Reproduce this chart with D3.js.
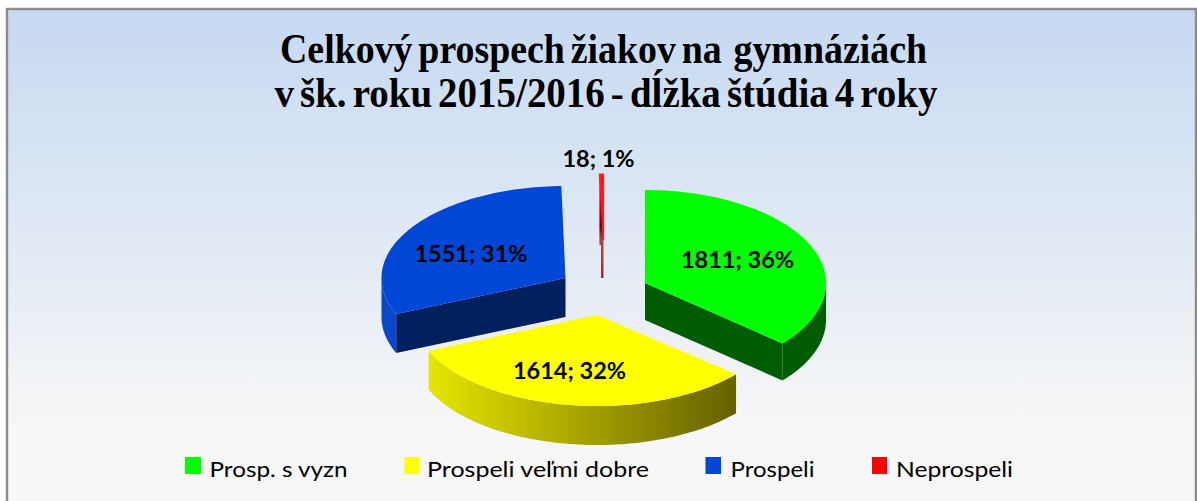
<!DOCTYPE html>
<html><head><meta charset="utf-8">
<script src="https://cdn.jsdelivr.net/npm/d3@7"></script>
<style>html,body{margin:0;padding:0;background:#fff}svg{display:block}</style>
</head><body><div id="chart"></div>
<script>
const categories = ["Prosp. s vyzn", "Prospeli veľmi dobre", "Prospeli", "Neprospeli"];
const values = [1811, 1614, 1551, 18];
const percents = ["36%", "32%", "31%", "1%"];
const titleLines = ["Celkový prospech žiakov na  gymnáziách", "v šk. roku 2015/2016 - dĺžka štúdia 4 roky"];

const W = 1197, H = 501;
const topColors = ["#00ff00", "#ffff00", "#0047d8", "#ff1a1a"];
const sideColors = ["#005c00", "#b0b000", "#002060", "#8a3a3a"];
const apex = [[645, 283], [597, 315], [565.5, 278], [603.5, 240]];
const radiiY = [93, 91, 92, 66];
const radiiX = [181, 183, 184, 181];
const DEPTH = [37, 39, 39, 38];
const labelPos = [[737.5, 268], [569.5, 379], [471, 262], [598.5, 167]];
const legendX = [185, 404.5, 705.5, 872], legendTextX = [209.5, 427, 730.5, 896], legendTextW = [138, 222, 84, 117];

const svg = d3.select("#chart").append("svg").attr("width", W).attr("height", H);
const defs = svg.append("defs");
const bg = defs.append("linearGradient").attr("id", "bg").attr("x1", 0).attr("x2", 0).attr("y1", 0).attr("y2", 1);
bg.append("stop").attr("offset", "0").attr("stop-color", "#c6d9f1");
bg.append("stop").attr("offset", "0.85").attr("stop-color", "#f7f7f7");
bg.append("stop").attr("offset", "1").attr("stop-color", "#f7f7f7");
const yg = defs.append("linearGradient").attr("id", "yw").attr("gradientUnits", "userSpaceOnUse").attr("x1", 428).attr("x2", 736).attr("y1", 0).attr("y2", 0);
yg.append("stop").attr("offset", "0").attr("stop-color", "#e6e600");
yg.append("stop").attr("offset", "1").attr("stop-color", "#666000");
const rg = defs.append("linearGradient").attr("id", "rw").attr("gradientUnits", "userSpaceOnUse").attr("x1", 0).attr("x2", 0).attr("y1", 174).attr("y2", 278);
[[0, "#ff2020"], [0.3, "#c00000"], [0.5, "#700000"], [0.62, "#a04848"], [0.75, "#b04040"], [1, "#803838"]].forEach(s => rg.append("stop").attr("offset", s[0]).attr("stop-color", s[1]));

svg.append("rect").attr("x", 7).attr("y", 9).attr("width", W - 8).attr("height", H - 5)
  .attr("fill", "url(#bg)").attr("stroke", "#8c8c8c").attr("stroke-width", 2.4);

const title = svg.append("g").attr("font-family", "Liberation Serif").attr("font-weight", "bold")
  .attr("font-size", 42).attr("fill", "#000").attr("text-anchor", "middle").attr("word-spacing", "-4px");
title.selectAll("text").data(titleLines).join("text")
  .attr("x", (d, i) => [603.5, 606][i]).attr("y", (d, i) => [63, 107][i])
  .attr("textLength", (d, i) => [647, 663][i]).attr("lengthAdjust", "spacingAndGlyphs")
  .attr("xml:space", "preserve").style("white-space", "pre").text(d => d);

const pie = d3.pie().sort(null).startAngle(0).endAngle(2 * Math.PI);
const arcs = pie(values);
const line = d3.line();
function pt(i, a, z = 0, r = 1) {
  return [apex[i][0] + radiiX[i] * r * Math.sin(a), apex[i][1] - radiiY[i] * r * Math.cos(a) + z];
}
function arcPts(i, a0, a1, z) {
  const n = 80, s = d3.scaleLinear().domain([0, n]).range([a0, a1]);
  return d3.range(n + 1).map(k => pt(i, s(k), z));
}
const chart = svg.append("g");
[2, 0, 1, 3].forEach(i => {
  const a = arcs[i], z = DEPTH[i], g = chart.append("g");
  const a0 = a.startAngle, a1 = a.endAngle;
  const vis0 = Math.max(a0, Math.PI / 2), vis1 = Math.min(a1, 3 * Math.PI / 2);
  if (i === 3) {
    const o = pt(i, a0), p = apex[i];
    const poly = [o, [p[0], o[1] + 4], [p[0], p[1] + z], [p[0] - 2.5, p[1] + z], [p[0] - 2.5, o[1] + 71], [o[0], o[1] + 71]];
    g.append("path").attr("d", line(poly) + "Z").attr("fill", "url(#rw)");
  } else {
    if (vis1 > vis0) {
      const outer = arcPts(i, vis0, vis1, 0).concat(arcPts(i, vis1, vis0, z));
      g.append("path").attr("d", line(outer) + "Z").attr("fill", i === 1 ? "url(#yw)" : i === 0 ? sideColors[0] : "#0a47cc");
    }
    const edge = i === 0 ? a1 : a0;
    if (i !== 1) {
      const o = pt(i, edge), p = apex[i];
      const poly = [p, o, [o[0], o[1] + z], [p[0], p[1] + z]];
      g.append("path").attr("d", line(poly) + "Z").attr("fill", sideColors[i]);
    }
  }
  const topPts = [apex[i]].concat(arcPts(i, a0, a1, 0));
  g.append("path").attr("d", line(topPts) + "Z").attr("fill", topColors[i])
    .attr("stroke", i === 3 ? topColors[i] : "none").attr("stroke-width", 1.2);
});

svg.append("g").attr("font-family", "Lato").attr("font-weight", "bold").attr("font-size", 23.5).attr("fill", "#000")
  .attr("text-anchor", "middle").selectAll("text").data(values).join("text")
  .attr("x", (d, i) => labelPos[i][0]).attr("y", (d, i) => labelPos[i][1])
  .text((d, i) => `${d}; ${percents[i]}`);

const leg = svg.append("g").selectAll("g").data(categories).join("g");
leg.append("rect").attr("x", (d, i) => legendX[i]).attr("y", 457)
  .attr("width", (d, i) => [16, 15, 15.5, 15][i]).attr("height", 17).attr("fill", (d, i) => topColors[i].replace("#ff1a1a", "#ff0000"));
leg.append("text").attr("x", (d, i) => legendTextX[i]).attr("y", 477)
  .attr("font-family", "Lato").attr("font-size", 22).attr("fill", "#000")
  .attr("textLength", (d, i) => legendTextW[i]).attr("lengthAdjust", "spacingAndGlyphs").text(d => d);
</script></body></html>
